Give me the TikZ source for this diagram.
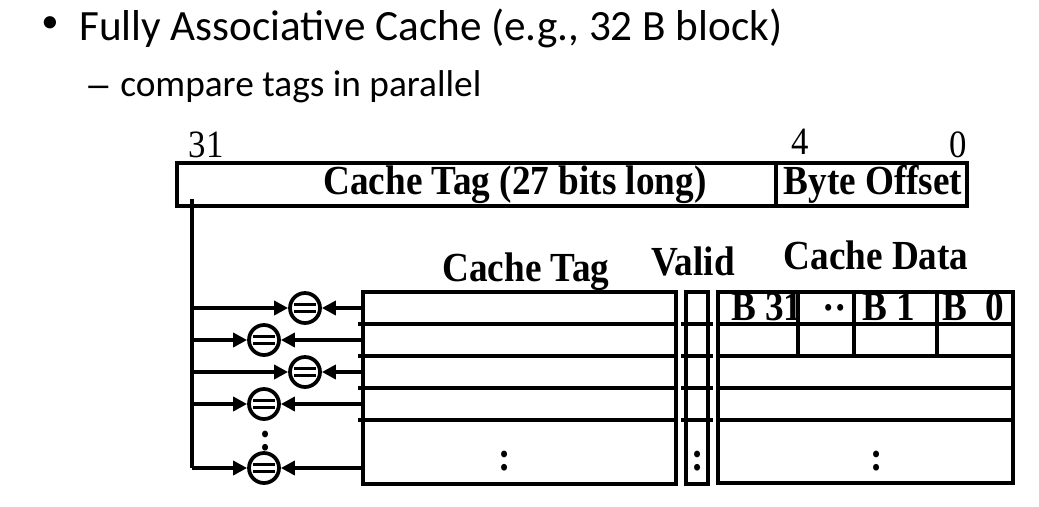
\documentclass[tikz,border=0pt]{standalone}
\usepackage{fontspec}
\setmainfont{Carlito}
\newfontfamily\tnr[FakeStretch=0.9]{Liberation Serif}
\newfontfamily\dashfont{Liberation Sans}
\usetikzlibrary{arrows.meta}
\begin{document}
\begin{tikzpicture}[x=0.75pt,y=-0.75pt,
  box/.style={line width=2.8pt, line cap=rect},
  arr/.style={line width=2.8pt, -{Triangle[length=10.5pt,width=10.5pt]}},
  bus/.style={line width=2.8pt},
  lbl/.style={inner sep=0pt, font=\tnr\bfseries\fontsize{31}{33}\selectfont},
  bit/.style={inner sep=0pt, font=\tnr\fontsize{29}{31}\selectfont},
  cmp/.style={circle, draw, line width=2.8pt, minimum size=22.5pt, inner sep=0pt,
    path picture={
      \draw[line width=1.9pt] ([xshift=-8pt,yshift=2.6pt]path picture bounding box.center) -- ++(16pt,0pt);
      \draw[line width=1.9pt] ([xshift=-8pt,yshift=-2.6pt]path picture bounding box.center) -- ++(16pt,0pt);
    }},
]
\useasboundingbox (0,0) rectangle (1039,507);

% heading
\node[anchor=center, inner sep=0pt, font=\fontsize{26}{28}\selectfont] (bul) at (50,25) {•};
\node[anchor=base west, inner sep=0pt, font=\fontsize{32.4}{34}\selectfont] (title) at (79,40)
  {Fully Associative Cache (e.g., 32 B block)};
\node[anchor=base west, inner sep=0pt, font=\dashfont\fontsize{27}{30}\selectfont] (dash) at (88,96) {–};
\node[anchor=base west, inner sep=0pt, font=\fontsize{28}{30}\selectfont] (sub) at (120,96)
  {compare tags in parallel};

% address word
\draw[box] (177,163) rectangle (967,206);
\draw[box] (776,163) -- (776,206);
\node[bit, anchor=base] (b31) at (206,157) {31};
\node[bit, anchor=base] (b4) at (800,154) {4};
\node[bit, anchor=base] (b0) at (958,157) {0};
\node[lbl, anchor=base] (tagfield) at (515,194) {Cache Tag (27 bits long)};
\node[lbl, anchor=base] (offfield) at (873,194) {Byte Offset};

% column headings
\node[lbl, anchor=base] (hdtag) at (526,281) {Cache Tag};
\node[lbl, anchor=base] (hdvalid) at (693,275) {Valid};
\node[lbl, anchor=base] (hddata) at (876,269) {Cache Data};

% tag array
\draw[box] (363,292) rectangle (676,484);
\foreach \y in {324,356,388,420} \draw[box] (360,\y) -- (676,\y);
\node[lbl, anchor=base] (tagdots) at (505,470) {:};

% valid bits
\draw[box] (686,292) rectangle (708,484);
\foreach \y in {324,356,388,420} \draw[box] (683,\y) -- (711,\y);
\node[lbl, anchor=base] (validdots) at (698,470) {:};

% data array
\draw[box] (718,292) rectangle (1013,483);
\foreach \y in {324,356,388,420} \draw[box] (718,\y) -- (1013,\y);
\foreach \x in {798,854,937} \draw[box] (\x,292) -- (\x,356);
\node[lbl, anchor=base west] (byte31) at (731,320) {B 31};
\node[lbl, anchor=base] (bytedots) at (835,321) {··};
\node[lbl, anchor=base west] (byte1) at (862,320) {B 1};
\node[lbl, anchor=base west] (byte0) at (942,320) {B\hspace{0.45em}0};
\node[lbl, anchor=base] (datadots) at (877,470) {:};

% tag bus from the address word
\coordinate (bustop) at (192,199);
\coordinate (busbot) at (192,468);
\draw[bus] (bustop) -- (busbot);

% comparators
\node[cmp] (c1) at (305,308) {};
\node[cmp] (c2) at (264,340) {};
\node[cmp] (c3) at (305,372) {};
\node[cmp] (c4) at (264,404) {};
\node[cmp] (c5) at (264,468) {};
\node[lbl, anchor=base] (cmpdots) at (266,450) {:};

\foreach \i/\y in {1/308,2/340,3/372,4/404,5/468}{
  \coordinate (tap\i) at (192,\y);
  \coordinate (row\i) at (363,\y);
  \draw[arr] (tap\i) -- (c\i.west);
  \draw[arr] (row\i) -- (c\i.east);
}
\end{tikzpicture}
\end{document}
